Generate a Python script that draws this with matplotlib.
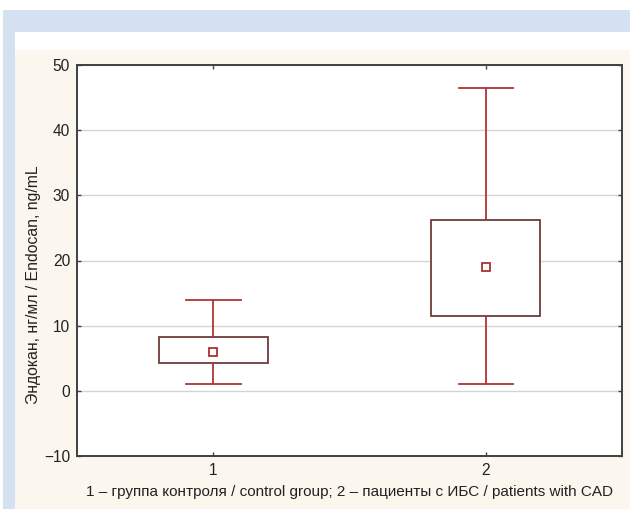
import matplotlib
matplotlib.use("Agg")
import matplotlib.pyplot as plt
from matplotlib.patches import Rectangle

plt.rcParams['font.family'] = ['Liberation Sans', 'DejaVu Sans']

# values
groups = [1, 2]
whisker_lo = [1.0, 1.0]
box_lo = [4.3, 11.5]
center = [6.0, 19.0]
box_hi = [8.2, 26.2]
whisker_hi = [14.0, 46.5]
y_ticks = [-10, 0, 10, 20, 30, 40, 50]

W, H = 630, 509
fig = plt.figure(figsize=(W / 100, H / 100), dpi=100)
fig.patch.set_facecolor("white")


def px_rect(x0, y0, x1, y1, color):
    # rectangle given in pixel coords (top-left origin)
    fig.patches.append(Rectangle((x0 / W, 1 - y1 / H), (x1 - x0) / W, (y1 - y0) / H,
                                 transform=fig.transFigure, facecolor=color,
                                 edgecolor="none", zorder=-10))


px_rect(3, 10, 630, 32, "#d4e1f1")
px_rect(3, 32, 15, 509, "#d4e1f1")
px_rect(15, 32, 630, 50, "white")
px_rect(15, 50, 630, 509, "#fbf7ee")

ax = fig.add_axes([77 / W, 1 - 456 / H, 545 / W, (456 - 65) / H])
ax.set_facecolor("white")

stats = [dict(whislo=lo, q1=a, med=c, mean=c, q3=b, whishi=hi, fliers=[])
         for lo, a, c, b, hi in zip(whisker_lo, box_lo, center, box_hi, whisker_hi)]
whisk = "#b03535"
ax.bxp(stats, positions=groups, widths=0.4, patch_artist=True, showmeans=True,
       boxprops=dict(facecolor="white", edgecolor="#6e3b3b", linewidth=1.3),
       whiskerprops=dict(color=whisk, linewidth=1.3),
       capprops=dict(color=whisk, linewidth=1.3), capwidths=0.2,
       medianprops=dict(linewidth=0),
       meanprops=dict(marker="s", markersize=6, markerfacecolor="white",
                      markeredgecolor="#a83232", markeredgewidth=1.3),
       zorder=3)

ax.set_xlim(0.5, 2.5)
ax.set_ylim(-10, 50)
ax.set_yticks(y_ticks)
ax.set_yticklabels([str(t).replace("-", "\u2212") for t in y_ticks])
ax.set_xticks(groups)
ax.set_xticklabels([str(g) for g in groups])
ax.yaxis.grid(True, color="#d4d4d4", linewidth=1.0, zorder=0)
ax.set_axisbelow(True)
ax.tick_params(direction="in", length=3, width=1, color="#404040",
               top=True, right=True, labelsize=11.2, labelcolor="#222222", pad=5)
for s in ax.spines.values():
    s.set_color("#404040")
    s.set_linewidth(1.4)

ax.set_ylabel("Эндокан, нг/мл / Endocan, ng/mL", fontsize=11.3, color="#222222")
ax.yaxis.set_label_coords(-0.066, 0.437)
ax.set_xlabel("1 – группа контроля / control group; 2 – пациенты с ИБС / patients with CAD",
              fontsize=11, color="#222222", labelpad=5)

fig.savefig("out.png", dpi=100)
